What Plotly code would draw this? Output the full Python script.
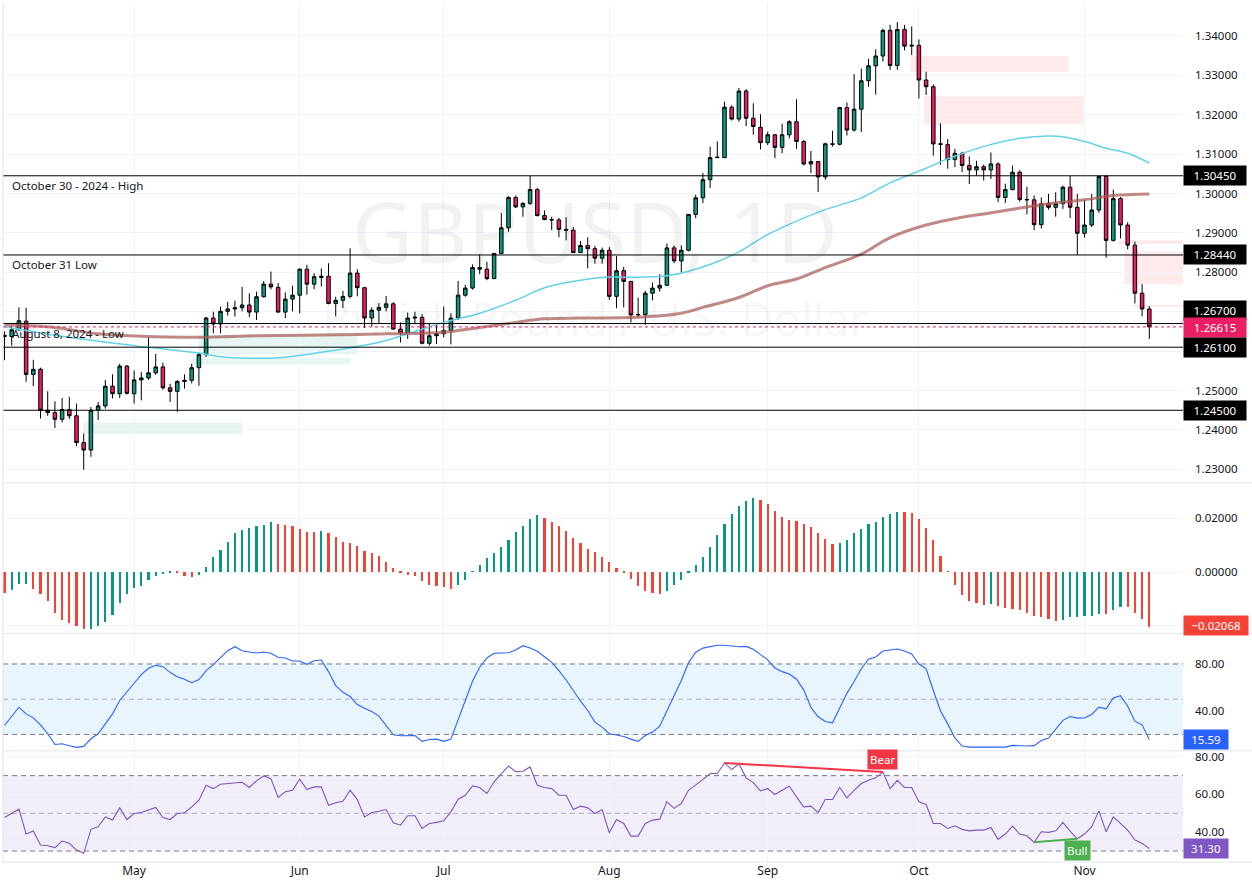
import pandas as pd
import plotly.graph_objects as go

# ---------------- data ----------------
dates = pd.bdate_range("2024-04-05", "2024-11-14")  # daily bars (weekdays)

opens = [
    1.2637, 1.2637, 1.2654, 1.2676, 1.2541, 1.2554, 1.2450, 1.2444, 1.2427, 1.2452,
    1.2436, 1.2368, 1.2349, 1.2450, 1.2461, 1.2511, 1.2492, 1.2562, 1.2492, 1.2527,
    1.2532, 1.2545, 1.2560, 1.2507, 1.2498, 1.2523, 1.2526, 1.2558, 1.2591, 1.2684,
    1.2669, 1.2701, 1.2707, 1.2710, 1.2717, 1.2699, 1.2738, 1.2770, 1.2762, 1.2699,
    1.2732, 1.2742, 1.2808, 1.2770, 1.2787, 1.2790, 1.2721, 1.2729, 1.2739, 1.2798,
    1.2761, 1.2684, 1.2704, 1.2711, 1.2720, 1.2656, 1.2646, 1.2684, 1.2686, 1.2620,
    1.2639, 1.2644, 1.2652, 1.2684, 1.2742, 1.2760, 1.2812, 1.2808, 1.2784, 1.2848,
    1.2913, 1.2990, 1.2966, 1.2975, 1.3010, 1.2944, 1.2934, 1.2933, 1.2909, 1.2907,
    1.2850, 1.2868, 1.2860, 1.2836, 1.2856, 1.2739, 1.2804, 1.2777, 1.2692, 1.2693,
    1.2747, 1.2760, 1.2767, 1.2862, 1.2829, 1.2856, 1.2947, 1.2989, 1.3035, 1.3091,
    1.3091, 1.3219, 1.3189, 1.3260, 1.3191, 1.3168, 1.3129, 1.3149, 1.3117, 1.3149,
    1.3182, 1.3132, 1.3081, 1.3081, 1.3042, 1.3126, 1.3125, 1.3218, 1.3161, 1.3214,
    1.3286, 1.3324, 1.3349, 1.3414, 1.3325, 1.3416, 1.3374, 1.3376, 1.3288, 1.3271,
    1.3126, 1.3124, 1.3086, 1.3102, 1.3071, 1.3060, 1.3068, 1.3060, 1.3075, 1.2990,
    1.3010, 1.3054, 1.2985, 1.2984, 1.2921, 1.2974, 1.2965, 1.2974, 1.3016, 1.2965,
    1.2899, 1.2920, 1.2958, 1.3043, 1.2881, 1.2987, 1.2920, 1.2869, 1.2747, 1.2707,
]
highs = [
    1.2650, 1.2665, 1.2711, 1.2710, 1.2578, 1.2558, 1.2498, 1.2473, 1.2481, 1.2484,
    1.2467, 1.2391, 1.2458, 1.2471, 1.2527, 1.2541, 1.2568, 1.2565, 1.2551, 1.2547,
    1.2635, 1.2593, 1.2571, 1.2517, 1.2527, 1.2541, 1.2568, 1.2597, 1.2687, 1.2700,
    1.2713, 1.2725, 1.2728, 1.2763, 1.2747, 1.2751, 1.2778, 1.2802, 1.2773, 1.2749,
    1.2766, 1.2810, 1.2819, 1.2798, 1.2810, 1.2823, 1.2738, 1.2753, 1.2861, 1.2808,
    1.2763, 1.2711, 1.2722, 1.2740, 1.2724, 1.2673, 1.2698, 1.2700, 1.2694, 1.2671,
    1.2669, 1.2713, 1.2696, 1.2778, 1.2768, 1.2820, 1.2845, 1.2827, 1.2849, 1.2951,
    1.2993, 1.2995, 1.2978, 1.3045, 1.3014, 1.2957, 1.2941, 1.2938, 1.2940, 1.2915,
    1.2879, 1.2889, 1.2867, 1.2863, 1.2864, 1.2841, 1.2814, 1.2778, 1.2736, 1.2753,
    1.2774, 1.2795, 1.2873, 1.2868, 1.2869, 1.2948, 1.2997, 1.3052, 1.3119, 1.3132,
    1.3233, 1.3224, 1.3268, 1.3265, 1.3229, 1.3201, 1.3157, 1.3151, 1.3177, 1.3186,
    1.3239, 1.3136, 1.3108, 1.3081, 1.3129, 1.3159, 1.3220, 1.3231, 1.3303, 1.3317,
    1.3342, 1.3366, 1.3418, 1.3428, 1.3435, 1.3428, 1.3424, 1.3391, 1.3309, 1.3277,
    1.3178, 1.3138, 1.3113, 1.3106, 1.3094, 1.3083, 1.3073, 1.3104, 1.3079, 1.3025,
    1.3071, 1.3059, 1.3017, 1.2995, 1.2990, 1.2999, 1.3003, 1.3020, 1.3045, 1.2999,
    1.2983, 1.2999, 1.3046, 1.3047, 1.3010, 1.2991, 1.2927, 1.2878, 1.2770, 1.2714,
]
lows = [
    1.2577, 1.2614, 1.2652, 1.2522, 1.2511, 1.2429, 1.2436, 1.2405, 1.2419, 1.2428,
    1.2359, 1.2299, 1.2332, 1.2425, 1.2454, 1.2480, 1.2481, 1.2490, 1.2467, 1.2475,
    1.2527, 1.2540, 1.2502, 1.2471, 1.2446, 1.2505, 1.2518, 1.2512, 1.2585, 1.2645,
    1.2645, 1.2690, 1.2688, 1.2701, 1.2686, 1.2679, 1.2736, 1.2757, 1.2698, 1.2684,
    1.2701, 1.2696, 1.2743, 1.2757, 1.2764, 1.2719, 1.2688, 1.2709, 1.2734, 1.2739,
    1.2659, 1.2662, 1.2669, 1.2701, 1.2655, 1.2622, 1.2631, 1.2669, 1.2617, 1.2614,
    1.2618, 1.2635, 1.2617, 1.2679, 1.2738, 1.2756, 1.2795, 1.2780, 1.2783, 1.2847,
    1.2903, 1.2963, 1.2941, 1.2971, 1.2942, 1.2932, 1.2907, 1.2889, 1.2881, 1.2849,
    1.2849, 1.2810, 1.2822, 1.2822, 1.2730, 1.2709, 1.2711, 1.2673, 1.2686, 1.2667,
    1.2729, 1.2751, 1.2766, 1.2823, 1.2800, 1.2853, 1.2937, 1.2976, 1.3014, 1.3090,
    1.3090, 1.3185, 1.3182, 1.3171, 1.3149, 1.3112, 1.3123, 1.3090, 1.3102, 1.3140,
    1.3113, 1.3071, 1.3052, 1.3004, 1.3035, 1.3119, 1.3122, 1.3147, 1.3157, 1.3156,
    1.3271, 1.3251, 1.3335, 1.3314, 1.3314, 1.3363, 1.3351, 1.3241, 1.3250, 1.3096,
    1.3073, 1.3063, 1.3067, 1.3054, 1.3024, 1.3046, 1.3033, 1.3037, 1.2978, 1.2976,
    1.3008, 1.2979, 1.2947, 1.2907, 1.2911, 1.2959, 1.2941, 1.2961, 1.2938, 1.2844,
    1.2888, 1.2915, 1.2951, 1.2837, 1.2878, 1.2886, 1.2858, 1.2721, 1.2688, 1.2631,
]
closes = [
    1.2640, 1.2654, 1.2677, 1.2541, 1.2554, 1.2450, 1.2444, 1.2427, 1.2452, 1.2436,
    1.2368, 1.2349, 1.2450, 1.2461, 1.2511, 1.2492, 1.2562, 1.2493, 1.2527, 1.2532,
    1.2545, 1.2560, 1.2507, 1.2498, 1.2523, 1.2526, 1.2558, 1.2591, 1.2684, 1.2669,
    1.2701, 1.2707, 1.2710, 1.2717, 1.2699, 1.2738, 1.2770, 1.2763, 1.2699, 1.2732,
    1.2742, 1.2808, 1.2770, 1.2789, 1.2790, 1.2721, 1.2729, 1.2739, 1.2798, 1.2761,
    1.2684, 1.2704, 1.2711, 1.2720, 1.2656, 1.2646, 1.2684, 1.2686, 1.2620, 1.2639,
    1.2644, 1.2652, 1.2684, 1.2742, 1.2760, 1.2812, 1.2808, 1.2784, 1.2848, 1.2913,
    1.2990, 1.2966, 1.2975, 1.3010, 1.2944, 1.2934, 1.2933, 1.2909, 1.2907, 1.2850,
    1.2868, 1.2860, 1.2836, 1.2856, 1.2739, 1.2804, 1.2777, 1.2692, 1.2693, 1.2747,
    1.2760, 1.2767, 1.2862, 1.2829, 1.2856, 1.2947, 1.2989, 1.3035, 1.3091, 1.3092,
    1.3219, 1.3189, 1.3260, 1.3191, 1.3170, 1.3129, 1.3149, 1.3117, 1.3149, 1.3182,
    1.3132, 1.3075, 1.3075, 1.3042, 1.3126, 1.3125, 1.3218, 1.3161, 1.3214, 1.3286,
    1.3324, 1.3349, 1.3414, 1.3325, 1.3416, 1.3374, 1.3376, 1.3288, 1.3271, 1.3126,
    1.3125, 1.3086, 1.3102, 1.3071, 1.3060, 1.3068, 1.3060, 1.3075, 1.2990, 1.3010,
    1.3054, 1.2985, 1.2984, 1.2921, 1.2974, 1.2965, 1.2974, 1.3016, 1.2965, 1.2899,
    1.2920, 1.2958, 1.3043, 1.2881, 1.2987, 1.2920, 1.2869, 1.2747, 1.2707, 1.26615,
]

# moving averages, read at selected bars (bar position, value)
sma50_pos = [0, 9, 18, 27, 30, 34, 38, 44, 49, 53, 61, 66, 71, 75, 80, 83, 92, 98, 102,
             106, 110, 114, 119, 123, 128, 131, 136, 141, 145, 147, 150, 153, 156, 159]
sma50_val = [1.2662, 1.2635, 1.2614, 1.2595, 1.2586, 1.2582, 1.2583, 1.2597, 1.2612, 1.2627,
             1.2673, 1.2696, 1.2729, 1.2761, 1.2780, 1.2787, 1.2791, 1.2820, 1.2852,
             1.2896, 1.2930, 1.2959, 1.2989, 1.3027, 1.3064, 1.3088, 1.3119, 1.3140, 1.3146,
             1.3144, 1.3132, 1.3115, 1.3102, 1.3077]
sma200_pos = [0, 7, 13, 27, 35, 49, 53, 61, 66, 71, 75, 80, 88, 94, 97, 102, 106, 110,
              114, 119, 123, 128, 133, 136, 141, 145, 150, 154, 159]
sma200_val = [1.2667, 1.2660, 1.2644, 1.2635, 1.2639, 1.2642, 1.2644, 1.2648, 1.2660, 1.2673,
              1.2682, 1.2684, 1.2686, 1.2696, 1.2711, 1.2736, 1.2766, 1.2783,
              1.2812, 1.2846, 1.2888, 1.2920, 1.2940, 1.2948, 1.2963, 1.2974, 1.2984, 1.2995, 1.2999]

# Awesome-oscillator style histogram
ao = [
    -0.0080, -0.0068, -0.0047, -0.0046, -0.0065, -0.0084, -0.0110, -0.0154, -0.0179, -0.0191,
    -0.0200, -0.0214, -0.0212, -0.0202, -0.0188, -0.0162, -0.0117, -0.0084, -0.0062, -0.0054,
    -0.0031, -0.0017, -0.0009, -0.0005, -0.0006, -0.0017, -0.0018, -0.0012, 0.0019, 0.0056,
    0.0081, 0.0111, 0.0142, 0.0156, 0.0164, 0.0168, 0.0175, 0.0185, 0.0179, 0.0175,
    0.0170, 0.0159, 0.0148, 0.0147, 0.0152, 0.0144, 0.0130, 0.0111, 0.0106, 0.0096,
    0.0078, 0.0068, 0.0057, 0.0035, 0.0014, -0.0002, -0.0011, -0.0017, -0.0036, -0.0051,
    -0.0054, -0.0058, -0.0065, -0.0051, -0.0031, 0.0002, 0.0026, 0.0052, 0.0068, 0.0093,
    0.0119, 0.0146, 0.0170, 0.0195, 0.0209, 0.0200, 0.0186, 0.0170, 0.0152, 0.0127,
    0.0105, 0.0086, 0.0072, 0.0056, 0.0037, 0.0014, -0.0004, -0.0028, -0.0054, -0.0073,
    -0.0080, -0.0084, -0.0073, -0.0049, -0.0032, -0.0006, 0.0026, 0.0056, 0.0093, 0.0137,
    0.0178, 0.0214, 0.0244, 0.0263, 0.0274, 0.0267, 0.0251, 0.0226, 0.0204, 0.0191,
    0.0188, 0.0177, 0.0167, 0.0143, 0.0121, 0.0104, 0.0107, 0.0117, 0.0142, 0.0158,
    0.0177, 0.0185, 0.0204, 0.0214, 0.0222, 0.0221, 0.0220, 0.0196, 0.0162, 0.0117,
    0.0059, -0.0001, -0.0049, -0.0088, -0.0110, -0.0117, -0.0125, -0.0120, -0.0128, -0.0136,
    -0.0140, -0.0143, -0.0154, -0.0165, -0.0169, -0.0177, -0.0184, -0.0179, -0.0169, -0.0168,
    -0.0165, -0.0164, -0.0158, -0.0159, -0.0143, -0.0132, -0.0133, -0.0154, -0.0177, -0.02068,
]
ao_dir = ("rggg" "rrrrrrrr" "gggggggggggg" "rrr" "ggggggggggg" "rrrrrr" "g"
          "rrrrrrrrrrrrrrrrrr" "gggggggggggg" "rrrrrrrrrrrrrrrrr" "ggggggggggggg"
          "rrrrrrrrrrr" "ggggggggg" "rrrrrrrrrrrr" "g" "rrrrrrrrr" "gggggg" "r" "gg" "rrrr")

stoch = [
    27.6, 35.0, 43.2, 37.5, 34.1, 28.2, 20.6, 11.5, 12.1, 10.4,
    9.0, 9.8, 16.3, 20.6, 29.1, 37.5, 48.9, 55.9, 63.6, 70.9,
    76.3, 78.9, 77.7, 72.9, 69.2, 67.0, 64.1, 66.7, 74.3, 79.4,
    85.7, 91.3, 94.7, 91.3, 90.2, 89.3, 90.2, 89.1, 85.7, 85.1,
    82.5, 82.5, 79.7, 82.8, 83.4, 73.5, 61.6, 55.9, 52.3, 45.5,
    42.4, 39.5, 35.6, 27.6, 19.7, 18.9, 19.1, 19.1, 14.1, 15.7,
    16.0, 14.1, 16.0, 32.4, 48.9, 65.3, 77.2, 85.1, 89.1, 89.3,
    89.6, 91.9, 95.6, 93.6, 90.8, 86.2, 81.4, 74.3, 66.4, 57.4,
    48.3, 40.4, 30.5, 26.2, 20.6, 19.5, 18.3, 16.0, 14.1, 19.1,
    22.0, 27.0, 40.0, 52.0, 66.0, 81.0, 90.0, 93.5, 95.0, 96.0,
    96.0, 95.3, 94.7, 95.0, 92.5, 88.0, 83.5, 76.6, 73.5, 71.5,
    67.0, 58.0, 43.0, 35.0, 31.0, 29.9, 43.2, 55.0, 65.0, 76.0,
    84.0, 86.0, 91.0, 92.0, 92.7, 91.0, 88.5, 80.0, 75.8, 57.4,
    40.0, 29.0, 17.0, 10.1, 9.2, 9.2, 9.2, 9.2, 9.2, 9.2,
    10.7, 10.3, 10.1, 10.5, 14.9, 16.9, 24.0, 32.0, 35.3, 33.9,
    34.0, 37.0, 43.2, 41.8, 51.0, 53.0, 44.0, 31.3, 28.2, 15.59,
]
rsi = [
    47.8, 49.9, 52.2, 39.0, 40.6, 33.2, 32.8, 31.8, 35.3, 34.1,
    30.5, 28.8, 41.5, 42.9, 48.1, 46.4, 52.9, 46.7, 49.9, 50.4,
    51.7, 53.1, 47.8, 46.7, 49.9, 50.3, 53.4, 57.0, 64.9, 63.1,
    65.4, 65.8, 65.8, 66.5, 63.7, 67.2, 69.8, 68.4, 58.4, 61.4,
    62.2, 68.1, 62.6, 64.0, 64.0, 54.3, 55.6, 56.4, 62.2, 57.3,
    48.1, 50.4, 51.1, 52.0, 45.0, 43.7, 48.7, 48.7, 42.0, 44.6,
    45.2, 46.0, 50.8, 57.5, 59.6, 64.5, 63.7, 60.5, 66.7, 71.1,
    75.1, 72.1, 72.3, 74.6, 64.9, 63.7, 63.1, 59.6, 59.6, 52.0,
    53.8, 52.9, 49.9, 52.0, 39.7, 46.7, 44.6, 37.9, 37.9, 44.6,
    46.4, 46.9, 56.1, 52.6, 55.2, 62.2, 64.9, 67.9, 71.1, 71.1,
    76.7, 73.2, 76.3, 68.8, 66.3, 61.9, 63.1, 60.0, 62.2, 64.4,
    58.7, 53.4, 53.8, 50.4, 57.3, 57.3, 63.7, 58.2, 62.2, 65.8,
    67.5, 68.8, 71.9, 63.1, 67.5, 63.7, 63.7, 56.1, 54.7, 44.6,
    44.6, 42.0, 43.4, 41.5, 40.7, 41.1, 41.1, 42.5, 36.2, 39.0,
    43.2, 39.0, 38.1, 34.6, 40.2, 39.9, 40.7, 45.2, 40.6, 36.5,
    39.0, 42.9, 51.3, 40.2, 48.1, 44.6, 41.1, 35.8, 34.1, 31.3,
]
bear_pos, bear_val = [100, 122], [76.7, 71.9]
bull_pos, bull_val = [143, 149], [34.6, 36.5]

levels = [1.3045, 1.2844, 1.2670, 1.2610, 1.2450]
level_notes = ["October 30 - 2024 - High", "October 31 Low", "August 8, 2024 - Low", "", ""]
last_price = 1.26615

# supply (pink) / demand (green) zones: start bar, end bar (None = open to the right), low, high
zones = [
    (125.8, 147.8, 1.3308, 1.3349, "s"),
    (127.7, 149.8, 1.3176, 1.3246, "s"),
    (154.7, None, 1.2872, 1.2881, "s"),
    (155.6, None, 1.2769, 1.2853, "s"),
    (156.7, None, 1.2712, 1.2717, "s"),
    (10.9, 33.0, 1.2390, 1.2419, "d"),
    (26.9, 49.0, 1.2592, 1.2641, "d"),
    (26.0, 48.0, 1.2566, 1.2582, "d"),
]

# ---------------- styling ----------------
FONT = "Noto Sans"
UP, DOWN = "#089981", "#e91e63"
AO_UP, AO_DN = "#089981", "#f44336"
GRID = "#f0f3fa"
TXT = "#131722"
H = 862.0  # plot-area height in px
X_RANGE = [-0.21, 163.68]


def dom(top_px, bot_px):
    return [1 - bot_px / H, 1 - top_px / H]


n = len(dates)
x = list(range(n))
month_starts = [i for i in range(1, n) if dates[i].month != dates[i - 1].month]
month_names = [dates[i].strftime("%b") for i in month_starts]

fig = go.Figure()

fig.add_trace(go.Candlestick(
    x=x, open=opens, high=highs, low=lows, close=closes,
    increasing=dict(fillcolor=UP, line=dict(color="#000000", width=1)),
    decreasing=dict(fillcolor=DOWN, line=dict(color="#000000", width=1)),
    whiskerwidth=0, xaxis="x", yaxis="y", hoverinfo="skip"))
fig.add_trace(go.Scatter(x=sma50_pos, y=sma50_val, mode="lines",
                         line=dict(color="#62d2e8", width=1.5, shape="spline"),
                         xaxis="x", yaxis="y", hoverinfo="skip"))
fig.add_trace(go.Scatter(x=sma200_pos, y=sma200_val, mode="lines",
                         line=dict(color="rgba(168,92,88,0.72)", width=3, shape="spline"),
                         xaxis="x", yaxis="y", hoverinfo="skip"))

fig.add_trace(go.Bar(x=x, y=ao, width=0.3,
                     marker=dict(color=[AO_UP if c == "g" else AO_DN for c in ao_dir],
                                 line=dict(width=0)),
                     xaxis="x", yaxis="y2", hoverinfo="skip"))

fig.add_trace(go.Scatter(x=x, y=stoch, mode="lines", line=dict(color="#2962ff", width=1.1),
                         xaxis="x", yaxis="y3", hoverinfo="skip"))

fig.add_trace(go.Scatter(x=x, y=rsi, mode="lines", line=dict(color="#7e57c2", width=1.1),
                         xaxis="x", yaxis="y4", hoverinfo="skip"))
fig.add_trace(go.Scatter(x=bear_pos, y=bear_val, mode="lines",
                         line=dict(color="#f23645", width=2), xaxis="x", yaxis="y4",
                         hoverinfo="skip"))
fig.add_trace(go.Scatter(x=bull_pos, y=bull_val, mode="lines",
                         line=dict(color="#4caf50", width=2), xaxis="x", yaxis="y4",
                         hoverinfo="skip"))

shapes = []
# zones
for x0, x1, lo, hi, kind in zones:
    shapes.append(dict(type="rect", xref="x", yref="y", x0=x0,
                       x1=X_RANGE[1] if x1 is None else x1, y0=lo, y1=hi,
                       fillcolor="rgba(242,54,69,0.11)" if kind == "s" else "rgba(8,153,129,0.10)",
                       line=dict(width=0), layer="below"))
# indicator bands
shapes.append(dict(type="rect", xref="paper", yref="y3", x0=0, x1=1, y0=20, y1=80,
                   fillcolor="rgba(33,150,243,0.10)", line=dict(width=0), layer="below"))
shapes.append(dict(type="rect", xref="paper", yref="y4", x0=0, x1=1, y0=30, y1=70,
                   fillcolor="rgba(126,87,194,0.10)", line=dict(width=0), layer="below"))
for yr, lv in (("y3", 80), ("y3", 20), ("y4", 70), ("y4", 30)):
    shapes.append(dict(type="line", xref="paper", yref=yr, x0=0, x1=1, y0=lv, y1=lv,
                       line=dict(color="#787b86", width=1, dash="5px,4px")))
for yr in ("y3", "y4"):
    shapes.append(dict(type="line", xref="paper", yref=yr, x0=0, x1=1, y0=50, y1=50,
                       line=dict(color="rgba(120,123,134,0.55)", width=1, dash="5px,4px")))
# horizontal levels
for lv in levels:
    shapes.append(dict(type="line", xref="paper", yref="y", x0=0, x1=1, y0=lv, y1=lv,
                       line=dict(color="#000000", width=1)))
shapes.append(dict(type="line", xref="paper", yref="y", x0=0, x1=1, y0=last_price,
                   y1=last_price, line=dict(color=DOWN, width=1, dash="dot")))
# pane separators and border
for py in (481.5, 632.5, 750.5, 862):
    shapes.append(dict(type="line", xref="paper", yref="paper", x0=0, x1=1.0585,
                       y0=1 - py / H, y1=1 - py / H, line=dict(color="#e0e3eb", width=1)))
shapes.append(dict(type="line", xref="paper", yref="paper", x0=0, x1=0, y0=0, y1=1,
                   line=dict(color="#e0e3eb", width=1)))

ann = []
# watermark
ann.append(dict(text="GBPUSD, 1D", xref="paper", yref="paper", x=0.5017, y=1 - 170 / H,
                showarrow=False, borderpad=0,
                font=dict(size=84, color="rgba(19,23,34,0.055)", family=FONT)))
ann.append(dict(text="British Pound / U.S. Dollar", xref="paper", yref="paper", x=0.5017,
                y=1 - 285 / H, showarrow=False, borderpad=0,
                font=dict(size=45, color="rgba(19,23,34,0.055)", family=FONT)))
# level notes
for lv, note in zip(levels, level_notes):
    if note:
        ann.append(dict(text=note, xref="paper", yref="y", x=0, y=lv, xanchor="left",
                        yanchor="middle", xshift=7, yshift=-10, showarrow=False,
                        font=dict(size=11.5, color=TXT, family=FONT)))
# right-side value tags
tags = [
    ("y", 1.3045, "1.30450", "#000000", 0, 58),
    ("y", 1.2844, "1.28440", "#000000", 0, 58),
    ("y", 1.2670, "1.26700", "#000000", 13, 58),
    ("y", last_price, "1.26615", DOWN, -1, 58),
    ("y", 1.2610, "1.26100", "#000000", 0, 58),
    ("y", 1.2450, "1.24500", "#000000", 0, 58),
    ("y2", ao[-1], "\u22120.02068", AO_DN, 2, 60),
    ("y3", stoch[-1], "15.59", "#2962ff", 0, 40),
    ("y4", rsi[-1], "31.30", "#7e57c2", 0, 40),
]
for yr, val, txt, bg, ysh, w in tags:
    ann.append(dict(text=txt, xref="paper", yref=yr, x=1, y=val, xanchor="left",
                    yanchor="middle", yshift=ysh, showarrow=False, bgcolor=bg, width=w,
                    align="center", borderpad=2,
                    font=dict(size=11.5, color="#ffffff", family=FONT)))
# divergence labels
ann.append(dict(text="Bear", xref="x", yref="y4", x=bear_pos[1], y=bear_val[1],
                yanchor="bottom", yshift=2, showarrow=False, bgcolor="#f23645",
                borderpad=2, font=dict(size=11.5, color="#ffffff", family=FONT)))
ann.append(dict(text="Bull", xref="x", yref="y4", x=bull_pos[1], y=bull_val[1],
                yanchor="top", yshift=-1, showarrow=False, bgcolor="#4caf50",
                borderpad=2, font=dict(size=11.5, color="#ffffff", family=FONT)))

price_ticks = [1.23, 1.24, 1.25, 1.26, 1.27, 1.28, 1.29, 1.30, 1.31, 1.32, 1.33, 1.34]
price_text = ["" if round(p, 2) in (1.26, 1.27) else f"{p:.5f}" for p in price_ticks]

axis_common = dict(side="right", anchor="x", showgrid=True, gridcolor=GRID, zeroline=False,
                   showline=False, ticks="", ticklabelstandoff=11, fixedrange=True,
                   tickfont=dict(size=11.5, color=TXT, family=FONT))

fig.update_layout(
    width=1252, height=886,
    margin=dict(l=3, r=69, t=0, b=24),
    paper_bgcolor="#ffffff", plot_bgcolor="#ffffff",
    showlegend=False, hovermode=False, bargap=0,
    xaxis=dict(range=X_RANGE, anchor="y4", tickvals=month_starts, ticktext=month_names,
               showgrid=True, gridcolor=GRID, zeroline=False, showline=False, ticks="",
               tickfont=dict(size=12, color=TXT, family=FONT), fixedrange=True,
               rangeslider=dict(visible=False)),
    yaxis=dict(domain=dom(0, 481), range=[1.22671, 1.34834], tickvals=price_ticks,
               ticktext=price_text, **axis_common),
    yaxis2=dict(domain=dom(482, 632), range=[-0.022593, 0.032963],
                tickvals=[-0.02, 0.0, 0.02], ticktext=["", "0.00000", "0.02000"], **axis_common),
    yaxis3=dict(domain=dom(633, 750), range=[6.42, 105.71], tickvals=[40, 80],
                ticktext=["40.00", "80.00"], **axis_common),
    yaxis4=dict(domain=dom(751, 862), range=[24.19, 82.84], tickvals=[40, 60, 80],
                ticktext=["40.00", "60.00", "80.00"], **axis_common),
    shapes=shapes, annotations=ann,
    font=dict(family=FONT, color=TXT),
)

fig.write_html("out.html", config={"displayModeBar": False})
